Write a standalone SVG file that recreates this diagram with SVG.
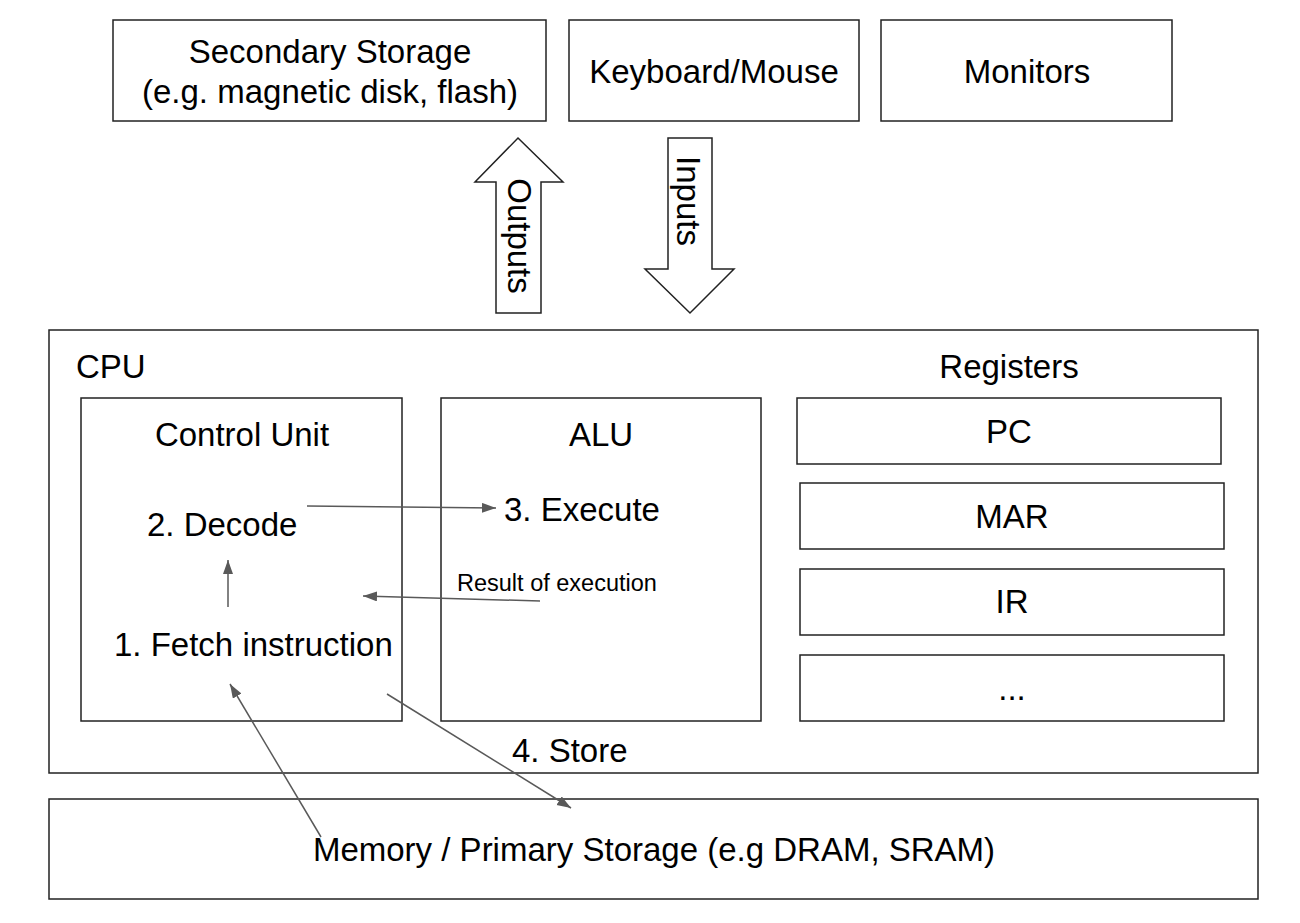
<svg xmlns="http://www.w3.org/2000/svg" width="1300" height="923" viewBox="0 0 1300 923">
<defs>
<style>
.box{fill:#fff;stroke:#222;stroke-width:1.5}
.t{font-family:"Liberation Sans",Arial,sans-serif;font-size:33px;fill:#000}
.c{text-anchor:middle}
.s{font-size:23.5px}
.conn{stroke:#595959;stroke-width:1.5;fill:none;marker-end:url(#ah)}
</style>
<marker id="ah" markerUnits="userSpaceOnUse" markerWidth="16" markerHeight="12" refX="14" refY="5" orient="auto">
<path d="M0,0 L14,5 L0,10 z" fill="#595959"/>
</marker>
</defs>
<rect width="1300" height="923" fill="#fff"/>
<g id="secondary-storage">
<rect class="box" x="113" y="20" width="433" height="101"/>
<text class="t c" x="330" y="63">Secondary Storage</text>
<text class="t c" x="330" y="103">(e.g. magnetic disk, flash)</text>
</g>
<g id="keyboard-mouse">
<rect class="box" x="569" y="20" width="290" height="101"/>
<text class="t c" x="714" y="83">Keyboard/Mouse</text>
</g>
<g id="monitors">
<rect class="box" x="881" y="20" width="291" height="101"/>
<text class="t c" x="1027" y="83">Monitors</text>
</g>
<g id="outputs-arrow">
<polygon class="box" points="518,138 563,182 541,182 541,313 496,313 496,182 475,182"/>
<text class="t c" transform="translate(508,236) rotate(90)">Outputs</text>
</g>
<g id="inputs-arrow">
<polygon class="box" points="668,138 712,138 712,269 734,269 690,313 645,269 668,269"/>
<text class="t c" transform="translate(677,201) rotate(90)">Inputs</text>
</g>
<g id="cpu">
<rect class="box" x="49" y="330" width="1209" height="443"/>
<text class="t" x="76" y="378">CPU</text>
<text class="t c" x="1009" y="378">Registers</text>
</g>
<g id="control-unit">
<rect class="box" x="81" y="398" width="321" height="323"/>
<text class="t c" x="242" y="446">Control Unit</text>
<text class="t" x="147" y="536">2. Decode</text>
<text class="t" x="114" y="656">1. Fetch instruction</text>
</g>
<g id="alu">
<rect class="box" x="441" y="398" width="320" height="323"/>
<text class="t c" x="601" y="446">ALU</text>
<text class="t" x="504" y="521">3. Execute</text>
<text class="t s" x="457" y="591">Result of execution</text>
</g>
<g id="pc">
<rect class="box" x="797" y="398" width="424" height="66"/>
<text class="t c" x="1009" y="443">PC</text>
</g>
<g id="mar">
<rect class="box" x="800" y="483" width="424" height="66"/>
<text class="t c" x="1012" y="528">MAR</text>
</g>
<g id="ir">
<rect class="box" x="800" y="569" width="424" height="66"/>
<text class="t c" x="1012" y="613">IR</text>
</g>
<g id="more-registers">
<rect class="box" x="800" y="655" width="424" height="66"/>
<text class="t c" x="1012" y="700">...</text>
</g>
<g id="store-label">
<text class="t" x="512" y="762">4. Store</text>
</g>
<g id="memory">
<rect class="box" x="49" y="799" width="1209" height="100"/>
<text class="t c" x="654" y="861">Memory / Primary Storage (e.g DRAM, SRAM)</text>
</g>
<g id="connectors">
<line class="conn" x1="307" y1="506" x2="496" y2="508"/>
<line class="conn" x1="228" y1="607" x2="228" y2="560"/>
<line class="conn" x1="540" y1="601" x2="363" y2="596"/>
<line class="conn" x1="321" y1="837" x2="230" y2="684"/>
<line class="conn" x1="387" y1="694" x2="571" y2="808"/>
</g>
</svg>
